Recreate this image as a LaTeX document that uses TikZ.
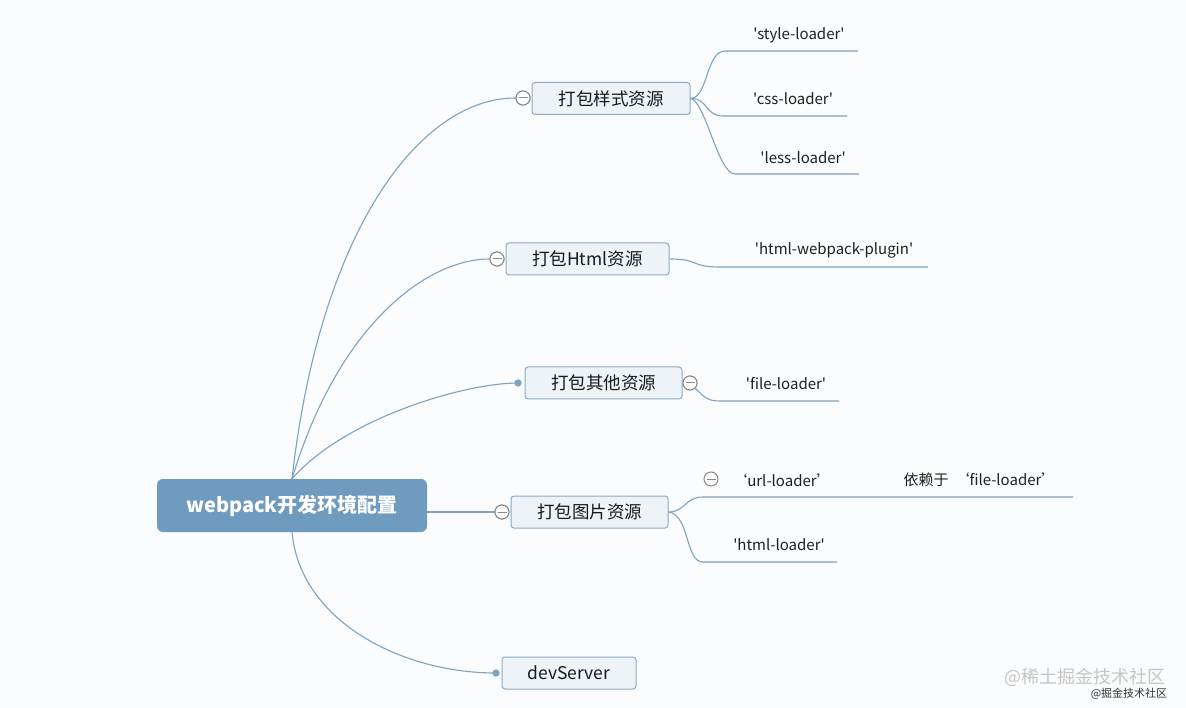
\documentclass[tikz,border=0pt]{standalone}
\usepackage{fontspec}
\setmainfont{Noto Sans CJK SC}[Ligatures=TeXOff]
\definecolor{linec}{HTML}{7FA2C0}
\definecolor{rootc}{HTML}{6F9BBE}
\definecolor{boxfill}{HTML}{EEF3F8}
\definecolor{boxdraw}{HTML}{8CAAC6}
\definecolor{bg}{HTML}{FBFCFD}
\definecolor{minusc}{HTML}{8A8A8A}
\tikzset{
 conn/.style={draw=linec, line width=1.1pt},
 topic/.style={draw=boxdraw, fill=boxfill, rounded corners=3pt, line width=1pt, font=\fontsize{17.5}{20}\selectfont, inner sep=0pt, minimum height=32pt, text=black!90},
 rootnode/.style={fill=rootc, rounded corners=6pt, text=white, font=\fontsize{20}{24}\selectfont\bfseries, minimum width=270pt, minimum height=53pt, inner sep=0pt},
 leaf/.style={font=\fontsize{15}{18}\selectfont, inner sep=0pt, text=black!88},
 collapse/.style={circle, draw=minusc, fill=white, line width=1pt, minimum size=14pt, inner sep=0pt,
   path picture={\draw[minusc, line width=1pt] ([xshift=-4.5pt]path picture bounding box.center) -- ([xshift=4.5pt]path picture bounding box.center);}},
 dotn/.style={circle, fill=linec, minimum size=7pt, inner sep=0pt},
 wm/.style={inner sep=0pt},
}
\begin{document}
\begin{tikzpicture}[x=1pt,y=-1pt]
\useasboundingbox[fill=bg] (0,0) rectangle (1186,708);
% nodes
\node[rootnode] (root) at (292,505.5) {webpack开发环境配置};
\node[topic, minimum width=158pt] (b1) at (611,98.5) {打包样式资源};
\node[topic, minimum width=163pt] (b2) at (587.5,259) {打包Html资源};
\node[topic, minimum width=157pt] (b3) at (603.5,383) {打包其他资源};
\node[topic, minimum width=157pt] (b4) at (589.5,512) {打包图片资源};
\node[topic, minimum width=134pt] (b5) at (569,673) {devServer};
% leaf texts
\node[leaf] (l1) at (799,35) {'style-loader'};
\node[leaf] (l2) at (793,99) {'css-loader'};
\node[leaf] (l3) at (803,158) {'less-loader'};
\node[leaf] (l4) at (834,250) {'html-webpack-plugin'};
\node[leaf] (l5) at (786,384) {'file-loader'};
\node[leaf] (l6) at (782,480) {‘url-loader’};
\node[leaf] (l7) at (980,480) {依赖于\hspace{6pt}‘file-loader’};
\node[leaf] (l8) at (779,545) {'html-loader'};
% underline coordinates
\coordinate (s1a) at (725,51);  \coordinate (s1b) at (858,51);
\coordinate (s2a) at (723,116); \coordinate (s2b) at (847,116);
\coordinate (s3a) at (735,174); \coordinate (s3b) at (859,174);
\coordinate (s4a) at (720,267); \coordinate (s4b) at (928,267);
\coordinate (s5a) at (720,401); \coordinate (s5b) at (839,401);
\coordinate (s6a) at (703,497); \coordinate (s6b) at (1073,497);
\coordinate (s8a) at (703,562); \coordinate (s8b) at (837,562);
% markers (positions)
\node[collapse] (m1) at (523,98) {};
\node[collapse] (m2) at (497,259) {};
\node[dotn] (d3) at (518,383) {};
\node[collapse] (m3) at (690,383) {};
\node[collapse] (m4) at (502,512) {};
\node[dotn] (d5) at (496,673) {};
\node[collapse] (m6) at (711,479) {};
% root connectors
\draw[conn] (root.north) .. controls (320,230) and (420,98) .. (m1.west);
\draw[conn] (root.north) .. controls (340,320) and (430,259) .. (m2.west);
\draw[conn] (root.north) .. controls (345,418) and (465,383) .. (d3.center);
\draw[conn] (root.east |- m4.west) -- (m4.west);
\draw[conn] (root.south) .. controls (300,620) and (400,673) .. (d5.center);
% child connectors
\draw[conn] (b1.east) .. controls (708,98) and (706,51) .. (s1a) -- (s1b);
\draw[conn] (b1.east) .. controls (708,98) and (705,116) .. (s2a) -- (s2b);
\draw[conn] (b1.east) .. controls (705,100) and (718,174) .. (s3a) -- (s3b);
\draw[conn] (b2.east) .. controls (700,259) and (690,267) .. (s4a) -- (s4b);
\draw[conn] (m3.south east) .. controls (705,398) and (708,401) .. (s5a) -- (s5b);
\draw[conn] (b4.east) .. controls (685,512) and (685,497) .. (s6a) -- (s6b);
\draw[conn] (b4.east) .. controls (690,515) and (685,562) .. (s8a) -- (s8b);
% redraw markers on top
\node[collapse] at (m1) {};
\node[collapse] at (m2) {};
\node[dotn] at (d3) {};
\node[collapse] at (m3) {};
\node[collapse] at (m4) {};
\node[dotn] at (d5) {};
% watermark
\node[wm, text=gray!45, font=\fontsize{18}{20}\selectfont] (w1) at (1085,677) {@稀土掘金技术社区};
\node[wm, text=black!80, font=\fontsize{11}{12}\selectfont] (w2) at (1129,694) {@掘金技术社区};
\end{tikzpicture}
\end{document}
